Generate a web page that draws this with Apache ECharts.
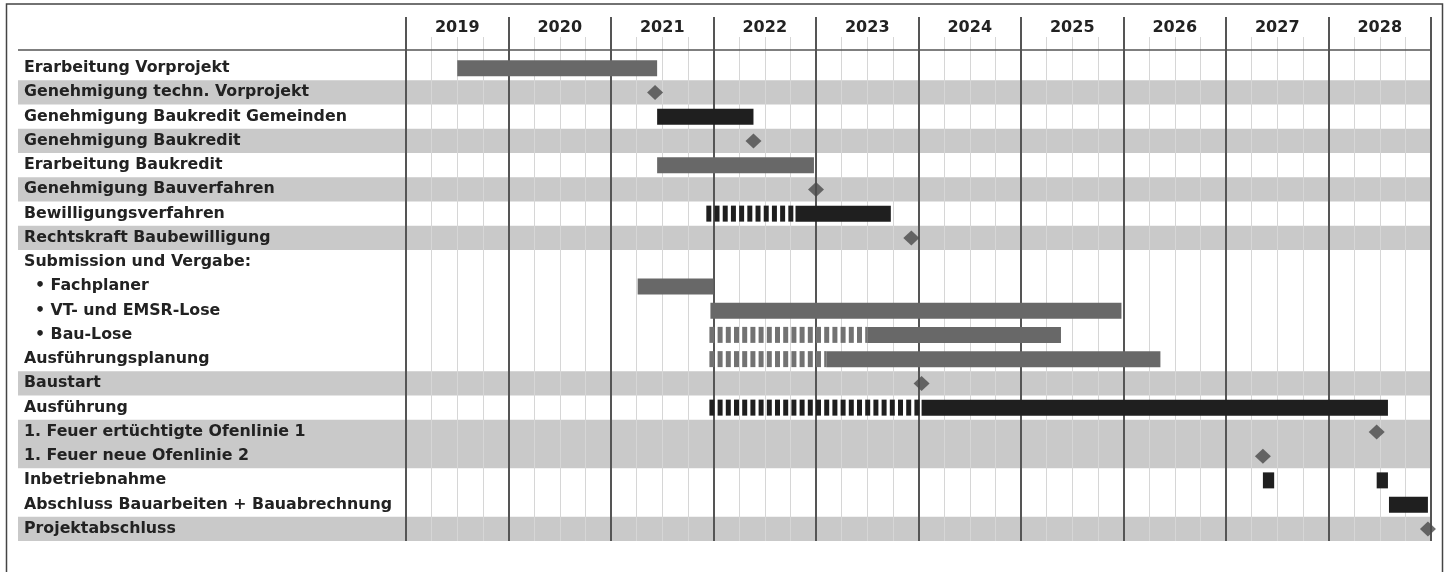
<!DOCTYPE html>
<html>
<head>
<meta charset="utf-8">
<script src="https://cdn.jsdelivr.net/npm/echarts@6/dist/echarts.min.js"></script>
<style>
html,body{margin:0;padding:0;background:#fff;}
#chart{width:1449px;height:572px;}
</style>
</head>
<body>
<div id="chart"></div>
<script>
// ---- data ----
const years = ['2019','2020','2021','2022','2023','2024','2025','2026','2027','2028'];
const rows = [
  'Erarbeitung Vorprojekt',
  'Genehmigung techn. Vorprojekt',
  'Genehmigung Baukredit Gemeinden',
  'Genehmigung Baukredit',
  'Erarbeitung Baukredit',
  'Genehmigung Bauverfahren',
  'Bewilligungsverfahren',
  'Rechtskraft Baubewilligung',
  'Submission und Vergabe:',
  '• Fachplaner',
  '• VT- und EMSR-Lose',
  '• Bau-Lose',
  'Ausführungsplanung',
  'Baustart',
  'Ausführung',
  '1. Feuer ertüchtigte Ofenlinie 1',
  '1. Feuer neue Ofenlinie 2',
  'Inbetriebnahme',
  'Abschluss Bauarbeiten + Bauabrechnung',
  'Projektabschluss'
];
const shadedRows = [1, 3, 5, 7, 13, 15, 16, 19];
// [start, end, row]
const grayBars = [
  [2019.5, 2021.45, 0],
  [2021.45, 2022.98, 4],
  [2021.26, 2022.0, 9],
  [2021.97, 2025.98, 10],
  [2023.5, 2025.39, 11],
  [2023.1, 2026.36, 12]
];
const blackBars = [
  [2021.45, 2022.39, 2],
  [2022.8, 2023.73, 6],
  [2024.03, 2028.58, 14],
  [2027.36, 2027.47, 17],
  [2028.47, 2028.58, 17],
  [2028.59, 2028.97, 18]
];
const grayHatchBars = [
  [2021.96, 2023.5, 11],
  [2021.96, 2023.1, 12]
];
const blackHatchBars = [
  [2021.93, 2022.8, 6],
  [2021.96, 2024.03, 14]
];
// [date, row]
const milestones = [
  [2021.43, 1],
  [2022.39, 3],
  [2023.0, 5],
  [2023.93, 7],
  [2024.03, 13],
  [2028.47, 15],
  [2027.36, 16],
  [2028.97, 19]
];

// ---- chart ----
const FONT = '"DejaVu Sans", "Noto Sans", sans-serif';
const chart = echarts.init(document.getElementById('chart'));

function barRenderer(color, hatched) {
  return function (params, api) {
    const s = api.coord([api.value(0), api.value(2)]);
    const e = api.coord([api.value(1), api.value(2)]);
    const h = 16;
    const y = s[1] - h / 2;
    if (!hatched) {
      return {type: 'rect', shape: {x: s[0], y: y, width: e[0] - s[0], height: h}, style: {fill: color}};
    }
    const children = [];
    const period = 8.2, sw = 5;
    for (let x = s[0]; x < e[0] - 1; x += period) {
      children.push({type: 'rect', shape: {x: x, y: y, width: Math.min(sw, e[0] - x), height: h}, style: {fill: color}});
    }
    return {type: 'group', children: children};
  };
}

function barSeries(data, color, hatched) {
  return {
    type: 'custom',
    xAxisIndex: 2, yAxisIndex: 2,
    data: data,
    encode: {x: [0, 1], y: 2},
    renderItem: barRenderer(color, hatched),
    clip: false,
    z: 3
  };
}

const option = {
  animation: false,
  backgroundColor: '#ffffff',
  grid: [
    {left: 406, right: 18, top: 17, height: 39},
    {left: 406, right: 18, top: 37, height: 19},
    {left: 406, right: 18, top: 56, bottom: 31}
  ],
  xAxis: [
    {
      gridIndex: 0, type: 'category', data: years, position: 'top',
      axisLine: {show: false}, axisTick: {show: false},
      axisLabel: {inside: true, margin: 3, fontFamily: FONT, fontWeight: 'bold', fontSize: 16, color: '#222', interval: 0},
      splitLine: {show: true, interval: 0, lineStyle: {color: '#555', width: 2}}
    },
    {
      gridIndex: 1, type: 'value', min: 2019, max: 2029, interval: 1,
      axisLine: {show: false}, axisTick: {show: false}, axisLabel: {show: false},
      splitLine: {show: false},
      minorTick: {show: false, splitNumber: 4},
      minorSplitLine: {show: true, lineStyle: {color: '#d6d6d6', width: 1}}
    },
    {
      gridIndex: 2, type: 'value', min: 2019, max: 2029, interval: 1,
      axisLine: {show: false}, axisTick: {show: false}, axisLabel: {show: false},
      splitLine: {show: true, lineStyle: {color: '#555', width: 2}},
      minorTick: {show: false, splitNumber: 4},
      minorSplitLine: {show: true, lineStyle: {color: '#d6d6d6', width: 1}}
    }
  ],
  yAxis: [
    {gridIndex: 0, type: 'value', show: false},
    {gridIndex: 1, type: 'value', show: false},
    {
      gridIndex: 2, type: 'category', data: rows, inverse: true,
      axisLine: {show: false}, axisTick: {show: false}, splitLine: {show: false},
      axisLabel: {
        interval: 0, align: 'left', margin: 382,
        fontFamily: FONT, fontWeight: 'bold', fontSize: 15.8, color: '#222',
        formatter: function (v) { return v.charAt(0) === '•' ? '\u00a0\u00a0' + v : v; }
      }
    }
  ],
  graphic: [
    {type: 'rect', shape: {x: 6.5, y: 4, width: 1436, height: 640}, style: {fill: 'none', stroke: '#444', lineWidth: 1.5}, z: 10},
    {type: 'line', shape: {x1: 18, y1: 50, x2: 1431, y2: 50}, style: {stroke: '#555', lineWidth: 1.5}, z: 10}
  ],
  series: [
    {
      type: 'custom',
      xAxisIndex: 2, yAxisIndex: 2,
      data: shadedRows.map(r => [2019, r]),
      encode: {x: 0, y: 1},
      clip: false,
      z: -1,
      silent: true,
      renderItem: function (params, api) {
        const c = api.coord([2019, api.value(1)]);
        const h = api.size([0, 1])[1];
        const cs = params.coordSys;
        return {type: 'rect', shape: {x: 18, y: c[1] - h / 2, width: cs.x + cs.width - 18, height: h}, style: {fill: '#c9c9c9'}};
      }
    },
    barSeries(grayBars, '#686868', false),
    barSeries(blackBars, '#1f1f1f', false),
    barSeries(grayHatchBars, '#727272', true),
    barSeries(blackHatchBars, '#1f1f1f', true),
    {
      type: 'scatter',
      xAxisIndex: 2, yAxisIndex: 2,
      data: milestones,
      symbol: 'diamond',
      symbolSize: [16, 15],
      itemStyle: {color: '#4a4a4a'},
      z: 4
    }
  ]
};
chart.setOption(option);
</script>
</body>
</html>
